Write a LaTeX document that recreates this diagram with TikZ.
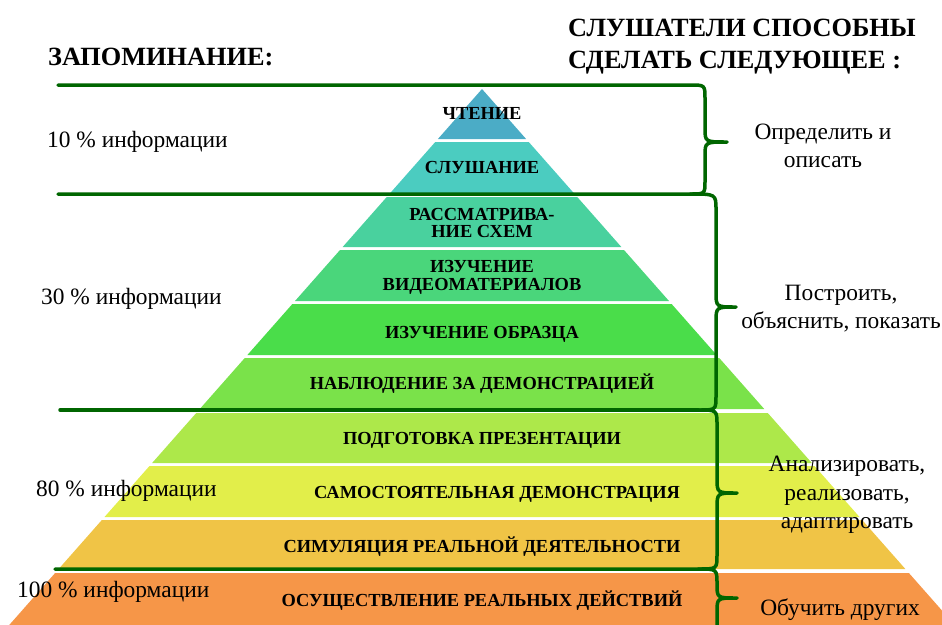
\documentclass[tikz,border=0pt]{standalone}
\usepackage{fontspec}
\IfFontExistsTF{LiberationSerif-Regular.ttf}{%
  \setmainfont{LiberationSerif-Regular.ttf}[BoldFont=LiberationSerif-Bold.ttf]}{%
  \setmainfont{Liberation Serif}}
\definecolor{cA}{RGB}{75,172,198}
\definecolor{cB}{RGB}{75,204,192}
\definecolor{cC}{RGB}{73,209,158}
\definecolor{cD}{RGB}{74,214,123}
\definecolor{cE}{RGB}{74,221,74}
\definecolor{cF}{RGB}{122,226,74}
\definecolor{cG}{RGB}{173,232,74}
\definecolor{cH}{RGB}{226,238,74}
\definecolor{cI}{RGB}{240,196,70}
\definecolor{cJ}{RGB}{246,150,72}
\definecolor{gline}{RGB}{0,102,0}
\tikzset{
  layerlbl/.style={font=\bfseries\fontsize{18.4}{19}\selectfont, inner sep=0pt, anchor=base},
  heading/.style={font=\bfseries\fontsize{26.3}{30}\selectfont, inner sep=0pt, anchor=base west},
  pctlbl/.style={font=\fontsize{23.4}{27}\selectfont, inner sep=0pt, anchor=base west},
  skilllbl/.style={font=\fontsize{23.4}{27}\selectfont, inner sep=0pt, anchor=base},
  bracepath/.style={draw=gline, line width=3.5pt, line cap=round, line join=round},
}
\begin{document}
\begin{tikzpicture}[x=1pt,y=-1pt]
\useasboundingbox (0,0) rectangle (942,624);
\begin{scope}
\clip (0,0) rectangle (942,624);
% pyramid layers
\foreach \t/\b/\c in {89/139/cA,142/194/cB,197/247/cC,250/301/cD,304/355/cE,358/409/cF,413/463/cG,466/517/cH,520/569/cI,573/650/cJ}{
  \pgfmathsetmacro\lt{482-0.882*(\t-89)}
  \pgfmathsetmacro\rt{482+0.882*(\t-89)}
  \pgfmathsetmacro\lb{482-0.882*(\b-89)}
  \pgfmathsetmacro\rb{482+0.882*(\b-89)}
  \fill[\c] (\lt,\t) -- (\rt,\t) -- (\rb,\b) -- (\lb,\b) -- cycle;
}
% lines and braces
\draw[bracepath] (58,85) -- (690,85) .. controls (705,85) .. (705,99) -- (705,128) .. controls (705,142) .. (727,142) .. controls (705,142) .. (705,156) -- (705,181) .. controls (705,194) .. (690,194) -- (58,194);
\draw[bracepath] (690,194) .. controls (716,194) .. (716,210) -- (716,292) .. controls (716,307) .. (736,307) .. controls (716,307) .. (716,322) -- (716,396) .. controls (716,410) .. (698,410);
\draw[bracepath] (60,410) -- (698,410);
\draw[bracepath] (698,410) .. controls (717,410) .. (717,425) -- (717,478) .. controls (717,493) .. (737,493) .. controls (717,493) .. (717,508) -- (717,555) .. controls (717,569) .. (698,569) -- (55,569);
\draw[bracepath] (698,569) .. controls (717,569) .. (717,584) .. controls (717,598) .. (737,598) .. controls (717,598) .. (717,612) -- (717,640);
\end{scope}
% layer labels
\node[layerlbl] (l1) at (482,119) {ЧТЕНИЕ};
\node[layerlbl] (l2) at (482,173) {СЛУШАНИЕ};
\node[layerlbl] (l3a) at (482,220) {РАССМАТРИВА-};
\node[layerlbl] (l3b) at (482,237) {НИЕ СХЕМ};
\node[layerlbl] (l4a) at (482,272) {ИЗУЧЕНИЕ};
\node[layerlbl] (l4b) at (482,290) {ВИДЕОМАТЕРИАЛОВ};
\node[layerlbl] (l5) at (482,338) {ИЗУЧЕНИЕ ОБРАЗЦА};
\node[layerlbl] (l6) at (482,389) {НАБЛЮДЕНИЕ ЗА ДЕМОНСТРАЦИЕЙ};
\node[layerlbl] (l7) at (482,444) {ПОДГОТОВКА ПРЕЗЕНТАЦИИ};
\node[layerlbl] (l8) at (497,498) {САМОСТОЯТЕЛЬНАЯ ДЕМОНСТРАЦИЯ};
\node[layerlbl] (l9) at (482,552) {СИМУЛЯЦИЯ РЕАЛЬНОЙ ДЕЯТЕЛЬНОСТИ};
\node[layerlbl] (l10) at (482,606) {ОСУЩЕСТВЛЕНИЕ РЕАЛЬНЫХ ДЕЙСТВИЙ};
% headings
\node[heading] (h1) at (48,65) {ЗАПОМИНАНИЕ:};
\node[heading] (h2a) at (568,36) {СЛУШАТЕЛИ СПОСОБНЫ};
\node[heading] (h2b) at (568,68) {СДЕЛАТЬ СЛЕДУЮЩЕЕ :};
% percent labels
\node[pctlbl] (p1) at (47,147) {10 \% информации};
\node[pctlbl] (p2) at (41,304) {30 \% информации};
\node[pctlbl] (p3) at (36,496) {80 \% информации};
\node[pctlbl] (p4) at (17,597) {100 \% информации};
% skill labels
\node[skilllbl] (s1a) at (823,139) {Определить и};
\node[skilllbl] (s1b) at (823,167) {описать};
\node[skilllbl] (s2a) at (841,300) {Построить,};
\node[skilllbl] (s2b) at (841,328) {объяснить, показать};
\node[skilllbl] (s3a) at (847,471) {Анализировать,};
\node[skilllbl] (s3b) at (847,500) {реализовать,};
\node[skilllbl] (s3c) at (847,528) {адаптировать};
\node[skilllbl] (s4) at (840,615) {Обучить других};
\end{tikzpicture}
\end{document}
